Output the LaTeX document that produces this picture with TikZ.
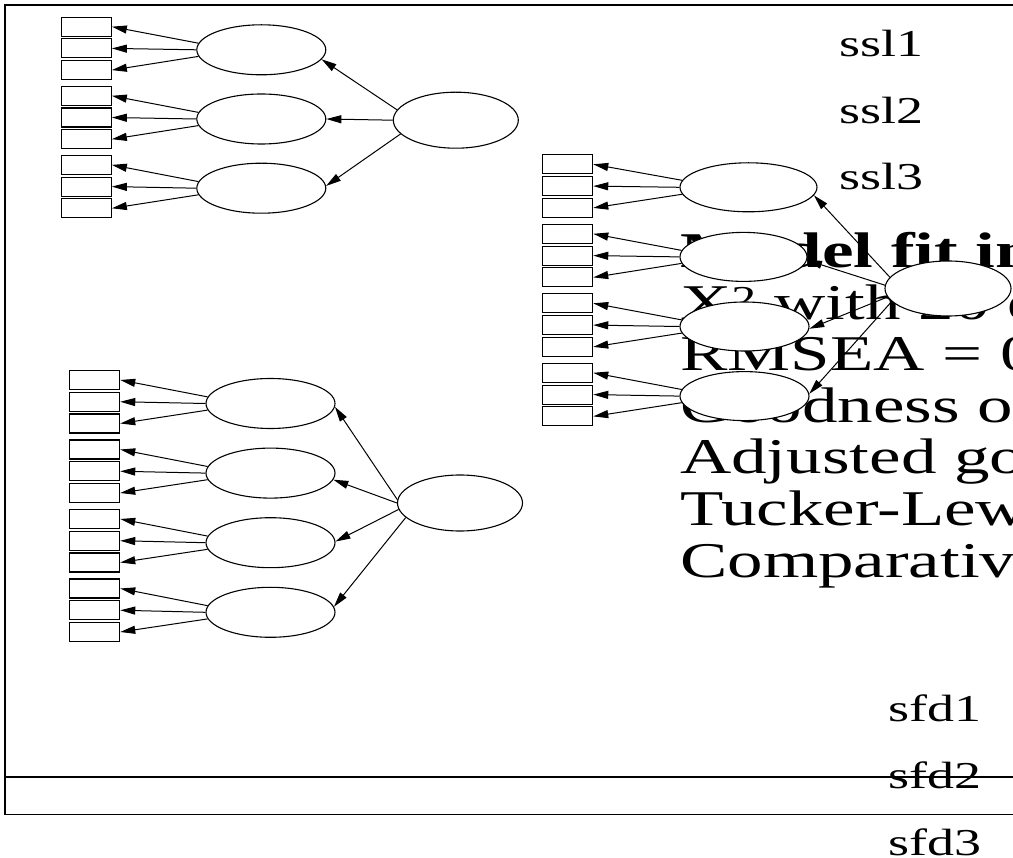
\documentclass[tikz,border=0pt]{standalone}
\usepackage{fontspec}
\setmainfont{Liberation Serif}[FakeStretch=1.42]
\usetikzlibrary{shapes.geometric,arrows.meta}
\tikzset{
    latent/.style={
        ellipse, draw=black, fill=white, line width=1.1pt, inner sep=0pt,
        minimum width=129pt, minimum height=50pt
    },
    factor/.style={
        latent, minimum width=125pt, minimum height=56pt
    },
    indicator/.style={
        rectangle, draw=black, fill=white, line width=1.1pt, inner sep=0pt,
        minimum width=50pt, minimum height=19pt
    },
    arrow/.style={-{Triangle[length=15pt,width=8pt]},line width=1pt},
    fitline/.style={anchor=base west, inner sep=0pt, font=\fontsize{50}{51.5}\selectfont},
    varlabel/.style={anchor=base west, inner sep=0pt, font=\fontsize{38}{40}\selectfont},
    boxline/.style={line width=1.6pt}
}
\begin{document}
\begin{tikzpicture}[x=1pt, y=-1pt]
\useasboundingbox (0,0) rectangle (1013,858);

%% frame lines
\draw[boxline] (1013,5) -- (5,5) -- (5,814.5) -- (1013,814.5);
\draw[boxline] (5,777) -- (1013,777);

%% text, cut at the right edge
\begin{scope}
\clip (0,0) rectangle (1013,858);
\node[varlabel] (ssl1) at (839, 57)    {ssl1};
\node[varlabel] (ssl2) at (839, 123.5) {ssl2};
\node[varlabel] (ssl3) at (839, 190)   {ssl3};

\node[fitline] (fit1) at (680, 268)   {\bfseries Model fit in};
\node[fitline] (fit2) at (680, 319.5) {X\textsuperscript{2} with 20 d};
\node[fitline] (fit3) at (680, 371)   {RMSEA = 0};
\node[fitline] (fit4) at (680, 422.5) {Goodness o};
\node[fitline] (fit5) at (680, 474)   {Adjusted go};
\node[fitline] (fit6) at (680, 525.5) {Tucker-Lew};
\node[fitline] (fit7) at (680, 577)   {Comparativ};

\node[varlabel] (sfd1) at (888, 721) {sfd1};
\node[varlabel] (sfd2) at (888, 788) {sfd2};
\node[varlabel] (sfd3) at (888, 855) {sfd3};
\end{scope}

%% Top left – one factor, three subfactors, three boxes each
\node[factor] (tlf) at (455.8, 120.2) {};
\foreach \g in {1,2,3} {
    \node[latent] (tle\g) at (261.3, {49.8+69.2*(\g-1)}) {};
    \foreach \k in {1,2,3}
        \node[indicator] (tlr\g\k) at (86.3, {26.7+69.1*(\g-1)+21.7*(\k-1)}) {};
    \foreach \k/\a in {1/174,2/180,3/186}
        \draw[arrow] (tle\g.\a) -- (tlr\g\k.east);
}
\draw[arrow] (tlf.170)  -- (tle1.-9);
\draw[arrow] (tlf.west) -- (tle2.east);
\draw[arrow] (tlf.194)  -- (tle3.2);

%% Top right – one factor, four subfactors (drawn over the fit text)
\node[factor, minimum width=126pt, minimum height=55pt] (trf) at (948, 288.5) {};
\foreach \g/\x/\w in {1/748.5/137, 2/743.5/127, 3/744.5/129, 4/744.5/129} {
    \node[latent, minimum width=\w pt, minimum height=49pt] (tre\g)
        at (\x, {187.3+69.6*(\g-1)}) {};
    \foreach \k in {1,2,3}
        \node[indicator] (trr\g\k) at (567.7, {164.3+69.5*(\g-1)+21.8*(\k-1)}) {};
    \foreach \k/\a in {1/174,2/180,3/186}
        \draw[arrow] (tre\g.\a) -- (trr\g\k.east);
}
\draw[arrow] (trf.169) -- (tre1.-7);
\draw[arrow] (trf.177) -- (tre2.-3);
\draw[arrow] (trf.188) -- (tre3.-2);
\draw[arrow] (trf.193) -- (tre4.2);

%% Bottom left – one factor, four subfactors
\node[factor] (blf) at (460, 503) {};
\foreach \g in {1,2,3,4} {
    \node[latent] (ble\g) at (270.5, {403.5+69.6*(\g-1)}) {};
    \foreach \k in {1,2,3}
        \node[indicator] (blr\g\k) at (94.7, {380+69.5*(\g-1)+21.75*(\k-1)}) {};
    \foreach \k/\a in {1/174,2/180,3/186}
        \draw[arrow] (ble\g.\a) -- (blr\g\k.east);
}
\draw[arrow] (blf.177)  -- (ble1.-3);
\draw[arrow] (blf.west) -- (ble2.-6);
\draw[arrow] (blf.186)  -- (ble3.1);
\draw[arrow] (blf.195)  -- (ble4.5);

\end{tikzpicture}
\end{document}
